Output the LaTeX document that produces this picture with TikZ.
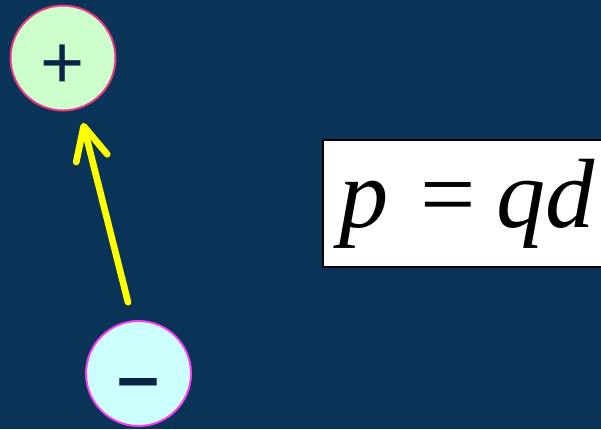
\documentclass[tikz,border=0pt]{standalone}
\usepackage{fontspec}
\setmainfont{Liberation Serif}
\newfontfamily\signfont{Liberation Sans}
\usepackage{xcolor}
\usetikzlibrary{arrows.meta}
\definecolor{xnavy}{HTML}{0A3457}
\definecolor{xink}{HTML}{0A2447}
\definecolor{xpink}{HTML}{EE3583}
\definecolor{xmagenta}{HTML}{FF3CF5}
\definecolor{xgreen}{HTML}{CCFFCC}
\definecolor{xcyan}{HTML}{CCFFFF}
\definecolor{xyellow}{HTML}{FFFF00}

\begin{document}
\begin{tikzpicture}[
    x=0.02cm, y=-0.02cm,
    charge/.style={circle, minimum size=2.1cm, inner sep=0pt, line width=1.1pt, text=xink, text height=0pt, text depth=0pt, font=\signfont\fontsize{43}{48}\selectfont},
    formula/.style={rectangle, draw=black, fill=white, line width=1.1pt, anchor=west, text width=6cm, align=left, inner xsep=0.34cm, minimum height=2.54cm, font=\fontsize{56}{62}\selectfont},
]
% Background
\fill[xnavy] (0,0) rectangle (601,429);
\useasboundingbox (0,0) rectangle (601,429);

% Charges
\node[charge, draw=xpink, fill=xgreen] (plus) at (63,58) {\raisebox{-0.62cm}{+}};
\node[charge, draw=xmagenta, fill=xcyan] (minus) at (138.5,373.5) {\raisebox{-0.58cm}{\textbf{\textendash}}};

% Dipole moment
\node[formula] (dipole) at (322,203.5) {\textit{p}\hspace{0.62cm}=\hspace{0.42cm}\textit{qd}};

% Arrow
\draw[-{Straight Barb[length=0.66cm, width=0.64cm, round]}, line width=3.8pt, line cap=round, xyellow, shorten <=1.47cm, shorten >=1.34cm] ([xshift=0.15cm]minus.center) -- ([xshift=0.07cm]plus.center);

\end{tikzpicture}
\end{document}
